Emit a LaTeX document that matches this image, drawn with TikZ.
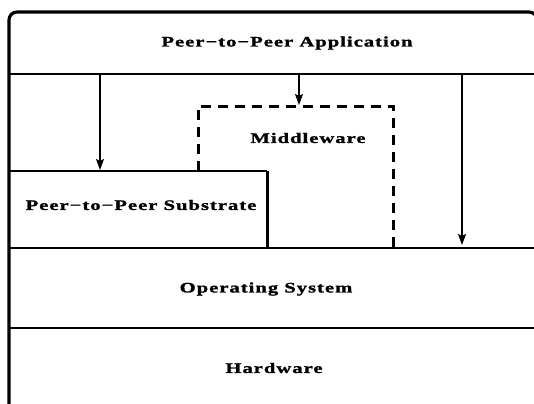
\documentclass[tikz,border=0pt]{standalone}
\usepackage{fontspec}
\usetikzlibrary{arrows.meta}
\newfontfamily\layerfont[FakeStretch=1.42,LetterSpace=7,FakeBold=1.5]{Liberation Serif}
\tikzset{
  frame/.style={line width=3.2bp, rounded corners=8bp},
  divider/.style={line width=2.4bp},
  flow/.style={line width=1.1bp, -{Stealth[length=11bp,width=8bp,inset=2bp]}},
  mwbox/.style={line width=3bp, dash pattern=on 10bp off 7bp},
  label/.style={font=\layerfont\bfseries\fontsize{14.5bp}{16bp}\selectfont, inner sep=0pt}
}
\begin{document}
\begin{tikzpicture}[x=1bp,y=-1bp]
  \useasboundingbox (0,0) rectangle (534,403);
  % outer frame
  \draw[frame] (9,405) -- (9,12) -- (537,12) -- (537,405);
  % layer boundaries
  \coordinate (appB) at (9,74);
  \coordinate (appBR) at (534,74);
  \coordinate (osT) at (9,248);
  \coordinate (osTR) at (534,248);
  \coordinate (hwT) at (9,328);
  \coordinate (hwTR) at (534,328);
  \draw[divider] (appB) -- (appBR);
  \draw[divider] (osT) -- (osTR);
  \draw[divider] (hwT) -- (hwTR);
  % substrate box
  \coordinate (subTL) at (9,171);
  \coordinate (subTR) at (267,171);
  \coordinate (subBR) at (267,248);
  \draw[divider] (subTL) -- (subTR);
  \draw[line width=3bp] (subTR) -- (subBR);
  % middleware box (dashed)
  \coordinate (mwBL) at (198,171);
  \coordinate (mwTL) at (198,106);
  \coordinate (mwTR) at (393,106);
  \coordinate (mwBR) at (393,247);
  \draw[mwbox] (mwBL) -- (mwTL) -- (mwTR) -- (mwBR);
  % arrows from the application layer
  \coordinate (a1s) at (100,74);
  \coordinate (a1e) at (100,170);
  \coordinate (a2s) at (299,74);
  \coordinate (a2e) at (299,105);
  \coordinate (a3s) at (462,74);
  \coordinate (a3e) at (462,245);
  \draw[flow] (a1s) -- (a1e);
  \draw[flow] (a2s) -- (a2e);
  \draw[flow] (a3s) -- (a3e);
  % labels
  \node[label] (app) at (287,43) {Peer−to−Peer Application};
  \node[label] (mw) at (308,138) {Middleware};
  \node[label] (sub) at (141,205) {Peer−to−Peer Substrate};
  \node[label] (os) at (266,289) {Operating System};
  \node[label] (hw) at (274,368) {Hardware};
\end{tikzpicture}
\end{document}
